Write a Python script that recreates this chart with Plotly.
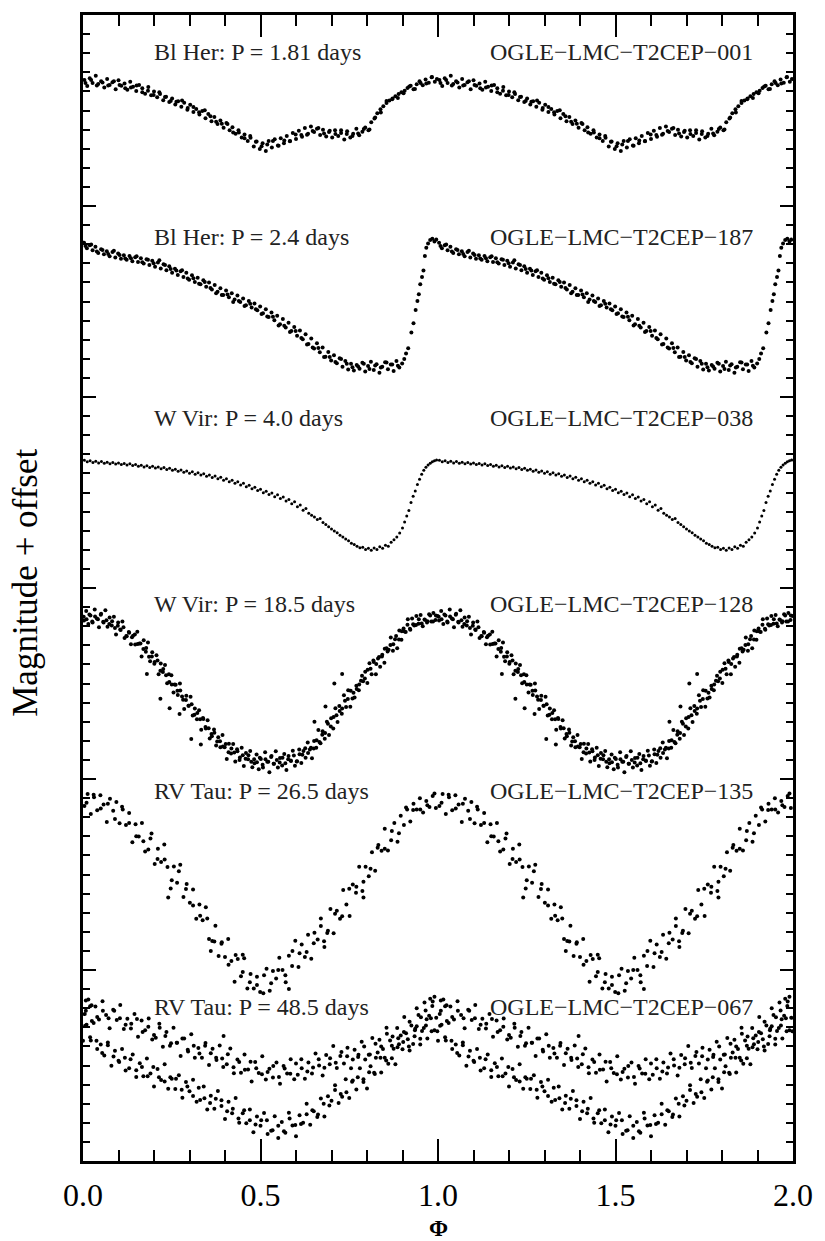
import plotly.graph_objects as go

# ---------------- data: (phase, magnitude + offset) ----------------
T2CEP_001 = [
(0.004,.340),(0.012,.372),(0.019,.331),(0.027,.356),(0.036,.318),(0.043,.361),(0.051,.347),(0.060,.380),
(0.068,.335),(0.075,.366),(0.083,.352),(0.092,.389),(0.100,.342),(0.108,.371),(0.117,.358),(0.125,.392),
(0.133,.349),(0.141,.375),(0.150,.398),(0.158,.366),(0.167,.384),(0.175,.412),(0.184,.377),(0.192,.420),
(0.200,.401),(0.209,.431),(0.217,.413),(0.226,.446),(0.234,.428),(0.243,.455),(0.251,.437),(0.260,.468),
(0.268,.452),(0.277,.481),(0.285,.459),(0.294,.496),(0.302,.470),(0.311,.508),(0.319,.492),(0.328,.521),
(0.336,.503),(0.345,.540),(0.353,.518),(0.362,.556),(0.370,.534),(0.379,.571),(0.387,.552),(0.396,.590),
(0.404,.566),(0.413,.603),(0.421,.588),(0.430,.622),(0.438,.604),(0.447,.641),(0.455,.626),(0.464,.660),
(0.472,.643),(0.481,.689),(0.489,.662),(0.498,.701),(0.506,.671),(0.515,.712),(0.523,.660),(0.532,.694),
(0.540,.651),(0.549,.683),(0.557,.645),(0.566,.672),(0.574,.633),(0.583,.661),(0.591,.618),(0.600,.649),
(0.608,.606),(0.617,.637),(0.625,.592),(0.634,.622),(0.642,.584),(0.651,.613),(0.659,.596),(0.668,.628),
(0.676,.601),(0.685,.636),(0.693,.612),(0.702,.641),(0.710,.603),(0.719,.633),(0.727,.618),(0.736,.652),
(0.744,.609),(0.753,.641),(0.761,.622),(0.770,.596),(0.778,.630),(0.787,.611),(0.795,.589),(0.804,.603),
(0.812,.561),(0.821,.542),(0.829,.514),(0.838,.493),(0.846,.478),(0.855,.461),(0.863,.448),(0.872,.437),
(0.880,.426),(0.889,.414),(0.897,.405),(0.906,.396),(0.914,.382),(0.923,.371),(0.931,.389),(0.940,.362),
(0.948,.347),(0.957,.368),(0.965,.338),(0.974,.355),(0.982,.326),(0.991,.349),(0.997,.335),
(0.007,.356),(0.023,.340),(0.039,.369),(0.055,.353),(0.071,.369),(0.087,.347),(0.103,.366),(0.119,.383),
(0.135,.380),(0.151,.369),(0.167,.405),(0.183,.397),(0.199,.419),(0.215,.404),(0.231,.429),(0.247,.450),
(0.263,.454),(0.279,.448),(0.295,.487),(0.311,.482),(0.327,.509),(0.343,.499),(0.359,.530),(0.375,.559),
(0.391,.570),(0.407,.571),(0.423,.615),(0.439,.615),(0.455,.645),(0.471,.634),(0.487,.663),(0.503,.687),
(0.519,.678),(0.535,.660),(0.551,.685),(0.567,.657),(0.583,.660),(0.599,.626),(0.615,.628),(0.631,.627),
(0.647,.607),(0.663,.591),(0.679,.621),(0.695,.606),(0.711,.623),(0.727,.603),(0.743,.623),(0.759,.633),
(0.775,.620),(0.791,.597),(0.807,.600),(0.823,.537),(0.839,.510),(0.855,.450),(0.871,.441),(0.887,.435),
(0.903,.410),(0.919,.374),(0.935,.387),(0.951,.356),(0.967,.358),(0.983,.325),
]

T2CEP_187 = [
(0.003,1.192),(0.011,1.221),(0.019,1.205),(0.027,1.232),(0.035,1.214),(0.043,1.246),(0.051,1.226),(0.059,1.252),
(0.067,1.237),(0.075,1.263),(0.083,1.241),(0.091,1.270),(0.099,1.249),(0.107,1.276),(0.115,1.258),(0.123,1.282),
(0.131,1.262),(0.139,1.289),(0.147,1.268),(0.155,1.293),(0.163,1.274),(0.171,1.301),(0.179,1.279),(0.187,1.309),
(0.195,1.286),(0.203,1.318),(0.211,1.296),(0.219,1.327),(0.227,1.305),(0.235,1.336),(0.243,1.316),(0.251,1.349),
(0.259,1.328),(0.267,1.361),(0.275,1.341),(0.283,1.372),(0.291,1.350),(0.299,1.386),(0.307,1.362),(0.315,1.398),
(0.323,1.376),(0.331,1.410),(0.339,1.389),(0.347,1.423),(0.355,1.401),(0.363,1.437),(0.371,1.414),(0.379,1.449),
(0.387,1.431),(0.395,1.466),(0.403,1.443),(0.411,1.478),(0.419,1.457),(0.427,1.489),(0.435,1.468),(0.443,1.503),
(0.451,1.484),(0.459,1.519),(0.467,1.497),(0.475,1.532),(0.483,1.511),(0.491,1.546),(0.499,1.526),(0.507,1.562),
(0.515,1.540),(0.523,1.581),(0.531,1.558),(0.539,1.598),(0.547,1.575),(0.555,1.619),(0.563,1.592),(0.571,1.636),
(0.579,1.611),(0.587,1.655),(0.595,1.634),(0.603,1.679),(0.611,1.652),(0.619,1.698),(0.627,1.671),(0.635,1.722),
(0.643,1.694),(0.651,1.746),(0.659,1.718),(0.667,1.766),(0.675,1.741),(0.683,1.789),(0.691,1.765),(0.699,1.809),
(0.707,1.782),(0.715,1.823),(0.723,1.797),(0.731,1.842),(0.739,1.812),(0.747,1.856),(0.755,1.826),(0.763,1.861),
(0.771,1.833),(0.779,1.852),(0.787,1.821),(0.795,1.866),(0.803,1.838),(0.811,1.815),(0.819,1.858),(0.827,1.829),
(0.835,1.873),(0.843,1.841),(0.851,1.818),(0.859,1.855),(0.867,1.830),(0.875,1.864),(0.883,1.812),(0.891,1.846),
(0.899,1.824),(0.905,1.801),(0.910,1.772),(0.916,1.745),(0.925,1.662),(0.931,1.614),(0.937,1.545),(0.942,1.498),
(0.946,1.462),(0.950,1.410),(0.955,1.372),(0.959,1.338),(0.963,1.262),(0.967,1.218),(0.972,1.196),(0.978,1.178),
(0.984,1.171),(0.990,1.186),(0.995,1.176),
(0.007,1.209),(0.023,1.202),(0.039,1.238),(0.055,1.230),(0.071,1.251),(0.087,1.234),(0.103,1.256),(0.119,1.275),
(0.135,1.274),(0.151,1.263),(0.167,1.295),(0.183,1.282),(0.199,1.300),(0.215,1.284),(0.231,1.309),(0.247,1.330),
(0.263,1.338),(0.279,1.337),(0.295,1.380),(0.311,1.378),(0.327,1.407),(0.343,1.398),(0.359,1.429),(0.375,1.457),
(0.391,1.466),(0.407,1.464),(0.423,1.503),(0.439,1.498),(0.455,1.524),(0.471,1.512),(0.487,1.540),(0.503,1.566),
(0.519,1.578),(0.535,1.580),(0.551,1.626),(0.567,1.627),(0.583,1.660),(0.599,1.654),(0.615,1.691),(0.631,1.725),
(0.647,1.741),(0.663,1.744),(0.679,1.790),(0.695,1.791),(0.711,1.817),(0.727,1.801),(0.743,1.826),(0.759,1.844),
(0.775,1.840),(0.791,1.826),(0.807,1.854),(0.823,1.835),(0.839,1.846),(0.855,1.819),(0.871,1.830),(0.887,1.837),
]

T2CEP_038 = [
(0.004,2.331),(0.012,2.339),(0.020,2.334),(0.028,2.343),(0.036,2.336),(0.044,2.345),(0.052,2.338),(0.060,2.347),
(0.068,2.341),(0.076,2.349),(0.084,2.343),(0.092,2.351),(0.100,2.345),(0.108,2.353),(0.116,2.348),(0.124,2.356),
(0.132,2.350),(0.140,2.359),(0.148,2.353),(0.156,2.362),(0.164,2.357),(0.172,2.366),(0.180,2.360),(0.188,2.369),
(0.196,2.363),(0.204,2.372),(0.212,2.366),(0.220,2.376),(0.228,2.369),(0.236,2.380),(0.244,2.373),(0.252,2.384),
(0.260,2.378),(0.268,2.389),(0.276,2.382),(0.284,2.394),(0.292,2.387),(0.300,2.399),(0.308,2.391),(0.316,2.404),
(0.324,2.397),(0.332,2.409),(0.340,2.402),(0.348,2.415),(0.356,2.408),(0.364,2.421),(0.372,2.414),(0.380,2.428),
(0.388,2.420),(0.396,2.436),(0.404,2.428),(0.412,2.444),(0.420,2.436),(0.428,2.452),(0.436,2.444),(0.444,2.461),
(0.452,2.452),(0.460,2.470),(0.468,2.462),(0.476,2.481),(0.484,2.473),(0.492,2.490),(0.500,2.483),(0.508,2.501),
(0.516,2.494),(0.524,2.511),(0.532,2.502),(0.540,2.522),(0.548,2.512),(0.556,2.531),(0.564,2.524),(0.572,2.545),
(0.580,2.536),(0.588,2.559),(0.596,2.548),(0.604,2.575),(0.612,2.566),(0.620,2.593),(0.628,2.584),(0.636,2.609),
(0.644,2.619),(0.652,2.628),(0.660,2.641),(0.668,2.636),(0.676,2.657),(0.684,2.668),(0.692,2.679),(0.700,2.691),
(0.708,2.702),(0.716,2.711),(0.724,2.724),(0.732,2.733),(0.740,2.744),(0.748,2.752),(0.756,2.766),(0.764,2.772),
(0.772,2.781),(0.780,2.789),(0.788,2.786),(0.796,2.799),(0.804,2.792),(0.812,2.803),(0.820,2.790),(0.828,2.798),
(0.836,2.784),(0.844,2.792),(0.852,2.776),(0.860,2.781),(0.868,2.761),(0.876,2.748),(0.884,2.733),(0.892,2.712),
(0.900,2.686),(0.906,2.654),(0.912,2.623),(0.918,2.594),(0.924,2.553),(0.930,2.519),(0.936,2.492),(0.942,2.458),
(0.948,2.431),(0.954,2.404),(0.960,2.384),(0.966,2.368),(0.972,2.356),(0.978,2.347),(0.984,2.339),(0.990,2.334),
(0.996,2.330),
]

T2CEP_128 = [
(0.003,3.170),(0.009,3.121),(0.015,3.188),(0.021,3.144),(0.027,3.181),(0.033,3.112),(0.039,3.160),(0.045,3.205),
(0.051,3.135),(0.057,3.177),(0.063,3.116),(0.069,3.203),(0.075,3.155),(0.081,3.196),(0.087,3.151),(0.093,3.243),
(0.099,3.180),(0.105,3.217),(0.111,3.175),(0.117,3.262),(0.123,3.252),(0.129,3.231),(0.135,3.294),(0.141,3.250),
(0.147,3.296),(0.153,3.229),(0.159,3.290),(0.165,3.359),(0.171,3.274),(0.177,3.334),(0.183,3.285),(0.189,3.384),
(0.195,3.337),(0.201,3.397),(0.207,3.352),(0.213,3.452),(0.219,3.395),(0.225,3.440),(0.231,3.403),(0.237,3.499),
(0.243,3.492),(0.249,3.457),(0.255,3.547),(0.261,3.506),(0.267,3.560),(0.273,3.500),(0.279,3.568),(0.285,3.634),
(0.291,3.564),(0.297,3.617),(0.303,3.569),(0.309,3.667),(0.315,3.631),(0.321,3.687),(0.327,3.640),(0.333,3.742),
(0.339,3.686),(0.345,3.728),(0.351,3.692),(0.357,3.788),(0.363,3.776),(0.369,3.741),(0.375,3.825),(0.381,3.782),
(0.387,3.834),(0.393,3.770),(0.399,3.834),(0.405,3.895),(0.411,3.815),(0.417,3.867),(0.423,3.817),(0.429,3.909),
(0.435,3.855),(0.441,3.900),(0.447,3.836),(0.453,3.932),(0.459,3.864),(0.465,3.896),(0.471,3.853),(0.477,3.938),
(0.483,3.918),(0.489,3.872),(0.495,3.949),(0.501,3.895),(0.507,3.940),(0.513,3.860),(0.519,3.910),(0.525,3.965),
(0.531,3.880),(0.537,3.920),(0.543,3.855),(0.549,3.940),(0.555,3.890),(0.561,3.929),(0.567,3.869),(0.573,3.953),
(0.579,3.880),(0.585,3.903),(0.591,3.852),(0.597,3.931),(0.603,3.907),(0.609,3.846),(0.615,3.916),(0.621,3.854),
(0.627,3.889),(0.633,3.809),(0.639,3.846),(0.645,3.892),(0.651,3.801),(0.657,3.836),(0.663,3.744),(0.669,3.813),
(0.675,3.750),(0.681,3.789),(0.687,3.700),(0.693,3.770),(0.699,3.682),(0.705,3.736),(0.711,3.629),(0.717,3.702),
(0.723,3.644),(0.729,3.659),(0.735,3.562),(0.741,3.623),(0.747,3.535),(0.753,3.622),(0.759,3.578),(0.765,3.573),
(0.771,3.529),(0.777,3.535),(0.783,3.485),(0.789,3.488),(0.795,3.438),(0.801,3.497),(0.807,3.394),(0.813,3.451),
(0.819,3.387),(0.825,3.452),(0.831,3.369),(0.837,3.412),(0.843,3.349),(0.849,3.391),(0.855,3.315),(0.861,3.323),
(0.867,3.259),(0.873,3.328),(0.879,3.268),(0.885,3.316),(0.891,3.222),(0.897,3.271),(0.903,3.212),(0.909,3.231),
(0.915,3.164),(0.921,3.213),(0.927,3.160),(0.933,3.196),(0.939,3.147),(0.945,3.187),(0.951,3.141),(0.957,3.200),
(0.963,3.166),(0.969,3.180),(0.975,3.137),(0.981,3.175),(0.987,3.131),(0.993,3.168),(0.999,3.146),
(0.180,3.450),(0.218,3.580),(0.244,3.630),(0.272,3.660),(0.305,3.790),(0.332,3.820),
(0.652,3.700),(0.683,3.620),(0.708,3.500),(0.730,3.450),
(0.002,3.150),(0.010,3.163),(0.018,3.139),(0.026,3.175),(0.034,3.149),(0.042,3.163),(0.050,3.140),(0.058,3.181),
(0.066,3.169),(0.074,3.189),(0.082,3.174),(0.090,3.210),(0.098,3.198),(0.106,3.220),(0.114,3.205),(0.122,3.251),
(0.130,3.234),(0.138,3.258),(0.146,3.244),(0.154,3.293),(0.162,3.290),(0.170,3.320),(0.178,3.314),(0.186,3.360),
(0.194,3.358),(0.202,3.387),(0.210,3.379),(0.218,3.433),(0.226,3.424),(0.234,3.457),(0.242,3.451),(0.250,3.505),
(0.258,3.505),(0.266,3.538),(0.274,3.536),(0.282,3.585),(0.290,3.586),(0.298,3.617),(0.306,3.609),(0.314,3.664),
(0.322,3.655),(0.330,3.687),(0.338,3.681),(0.346,3.735),(0.354,3.734),(0.362,3.764),(0.370,3.758),(0.378,3.804),
(0.386,3.802),(0.394,3.830),(0.402,3.817),(0.410,3.860),(0.418,3.840),(0.426,3.861),(0.434,3.844),(0.442,3.887),
(0.450,3.876),(0.458,3.894),(0.466,3.876),(0.474,3.910),(0.482,3.896),(0.490,3.912),(0.498,3.889),(0.506,3.925),
(0.514,3.897),(0.522,3.910),(0.530,3.885),(0.538,3.920),(0.546,3.901),(0.554,3.914),(0.562,3.889),(0.570,3.917),
(0.578,3.897),(0.586,3.906),(0.594,3.877),(0.602,3.908),(0.610,3.870),(0.618,3.873),(0.626,3.839),(0.634,3.864),
(0.642,3.836),(0.650,3.840),(0.658,3.797),(0.666,3.806),(0.674,3.768),(0.682,3.759),(0.690,3.711),(0.698,3.725),
(0.706,3.675),(0.714,3.666),(0.722,3.618),(0.730,3.631),(0.738,3.590),(0.746,3.581),(0.754,3.538),(0.762,3.549),
(0.770,3.512),(0.778,3.505),(0.786,3.459),(0.794,3.474),(0.802,3.428),(0.810,3.423),(0.818,3.380),(0.826,3.398),
(0.834,3.361),(0.842,3.358),(0.850,3.318),(0.858,3.332),(0.866,3.298),(0.874,3.294),(0.882,3.251),(0.890,3.270),
(0.898,3.226),(0.906,3.228),(0.914,3.193),(0.922,3.218),(0.930,3.190),(0.938,3.194),(0.946,3.163),(0.954,3.186),
(0.962,3.165),(0.970,3.174),(0.978,3.144),(0.986,3.176),(0.994,3.144),
]

T2CEP_135 = [
(0.004,4.141),(0.013,4.078),(0.022,4.183),(0.031,4.096),(0.040,4.163),(0.049,4.085),(0.058,4.133),(0.067,4.225),
(0.076,4.104),(0.085,4.166),(0.094,4.120),(0.103,4.232),(0.112,4.160),(0.121,4.241),(0.130,4.178),(0.139,4.331),
(0.148,4.237),(0.157,4.301),(0.166,4.230),(0.175,4.380),(0.184,4.369),(0.193,4.285),(0.202,4.445),(0.211,4.365),
(0.220,4.435),(0.229,4.343),(0.238,4.461),(0.247,4.573),(0.256,4.458),(0.265,4.543),(0.274,4.449),(0.283,4.618),
(0.292,4.550),(0.301,4.648),(0.310,4.578),(0.319,4.732),(0.328,4.657),(0.337,4.739),(0.346,4.671),(0.355,4.838),
(0.364,4.848),(0.373,4.768),(0.382,4.927),(0.391,4.855),(0.400,4.932),(0.409,4.838),(0.418,4.953),(0.427,5.062),
(0.436,4.943),(0.445,5.033),(0.454,4.938),(0.463,5.097),(0.472,5.021),(0.481,5.097),(0.490,5.035),(0.499,5.115),
(0.508,5.122),(0.517,4.993),(0.526,5.108),(0.535,5.005),(0.544,5.045),(0.553,4.936),(0.562,5.000),(0.571,5.064),
(0.580,4.926),(0.589,4.979),(0.598,4.847),(0.607,4.984),(0.616,4.866),(0.625,4.932),(0.634,4.816),(0.643,4.941),
(0.652,4.805),(0.661,4.840),(0.670,4.730),(0.679,4.849),(0.688,4.806),(0.697,4.681),(0.706,4.807),(0.715,4.690),
(0.724,4.732),(0.733,4.581),(0.742,4.657),(0.751,4.717),(0.760,4.553),(0.769,4.596),(0.778,4.459),(0.787,4.586),
(0.796,4.459),(0.805,4.509),(0.814,4.384),(0.823,4.481),(0.832,4.345),(0.841,4.376),(0.850,4.260),(0.859,4.374),
(0.868,4.321),(0.877,4.231),(0.886,4.328),(0.895,4.192),(0.904,4.241),(0.913,4.160),(0.922,4.222),(0.931,4.130),
(0.940,4.160),(0.949,4.101),(0.958,4.175),(0.967,4.115),(0.976,4.146),(0.985,4.089),(0.994,4.152),
(0.010,4.124),(0.030,4.082),(0.050,4.155),(0.070,4.130),(0.090,4.210),(0.110,4.145),(0.130,4.230),(0.150,4.300),
(0.170,4.326),(0.190,4.312),(0.210,4.419),(0.230,4.422),(0.250,4.530),(0.270,4.483),(0.290,4.576),(0.310,4.662),
(0.330,4.716),(0.350,4.730),(0.370,4.851),(0.390,4.862),(0.410,4.972),(0.430,4.921),(0.450,5.010),(0.470,5.064),
(0.490,5.078),(0.510,5.028),(0.530,5.069),(0.550,5.000),(0.570,5.028),(0.590,4.901),(0.610,4.912),(0.630,4.906),
(0.650,4.860),(0.670,4.770),(0.690,4.795),(0.710,4.706),(0.730,4.718),(0.750,4.575),(0.770,4.564),(0.790,4.538),
(0.810,4.470),(0.830,4.360),(0.850,4.365),(0.870,4.272),(0.890,4.284),(0.910,4.149),(0.930,4.162),(0.950,4.160),
(0.970,4.138),(0.990,4.076),
(0.240,4.620),(0.450,4.920),(0.680,4.880),(0.580,5.100),(0.790,4.620),(0.360,4.900),
]

T2CEP_067_BRIGHT = [
(0.005,5.231),(0.015,5.155),(0.025,5.267),(0.035,5.191),(0.045,5.259),(0.055,5.163),(0.065,5.235),(0.075,5.305),
(0.085,5.208),(0.095,5.262),(0.105,5.183),(0.115,5.309),(0.125,5.255),(0.135,5.306),(0.145,5.231),(0.155,5.350),
(0.165,5.264),(0.175,5.315),(0.185,5.254),(0.195,5.364),(0.205,5.355),(0.215,5.282),(0.225,5.402),(0.235,5.325),
(0.245,5.396),(0.255,5.302),(0.265,5.381),(0.275,5.450),(0.285,5.359),(0.295,5.417),(0.305,5.336),(0.315,5.459),
(0.325,5.408),(0.335,5.459),(0.345,5.382),(0.355,5.498),(0.365,5.412),(0.375,5.459),(0.385,5.395),(0.395,5.508),
(0.405,5.494),(0.415,5.411),(0.425,5.540),(0.435,5.468),(0.445,5.538),(0.455,5.443),(0.465,5.521),(0.475,5.584),
(0.485,5.482),(0.495,5.539),(0.505,5.452),(0.515,5.573),(0.525,5.517),(0.535,5.563),(0.545,5.484),(0.555,5.595),
(0.565,5.503),(0.575,5.542),(0.585,5.467),(0.595,5.572),(0.605,5.548),(0.615,5.467),(0.625,5.570),(0.635,5.484),
(0.645,5.542),(0.655,5.437),(0.665,5.500),(0.675,5.553),(0.685,5.445),(0.695,5.493),(0.705,5.398),(0.715,5.513),
(0.725,5.450),(0.735,5.490),(0.745,5.407),(0.755,5.515),(0.765,5.417),(0.775,5.455),(0.785,5.376),(0.795,5.469),
(0.805,5.444),(0.815,5.356),(0.825,5.460),(0.835,5.365),(0.845,5.413),(0.855,5.303),(0.865,5.369),(0.875,5.412),
(0.885,5.304),(0.895,5.343),(0.905,5.246),(0.915,5.362),(0.925,5.290),(0.935,5.316),(0.945,5.235),(0.955,5.319),
(0.965,5.212),(0.975,5.239),(0.985,5.165),(0.995,5.250),
(0.962,5.170),(0.978,5.150),(0.990,5.140),(0.008,5.160),(0.020,5.190),(0.940,5.200),(0.396,5.345),
(0.008,5.213),(0.024,5.185),(0.040,5.246),(0.056,5.214),(0.072,5.253),(0.088,5.213),(0.104,5.252),(0.120,5.287),
(0.136,5.282),(0.152,5.256),(0.168,5.324),(0.184,5.297),(0.200,5.340),(0.216,5.303),(0.232,5.346),(0.248,5.383),
(0.264,5.381),(0.280,5.359),(0.296,5.427),(0.312,5.397),(0.328,5.437),(0.344,5.396),(0.360,5.436),(0.376,5.471),
(0.392,5.464),(0.408,5.441),(0.424,5.509),(0.440,5.482),(0.456,5.522),(0.472,5.481),(0.488,5.515),(0.504,5.546),
(0.520,5.534),(0.536,5.502),(0.552,5.560),(0.568,5.516),(0.584,5.543),(0.600,5.490),(0.616,5.514),(0.632,5.532),
(0.648,5.511),(0.664,5.467),(0.680,5.512),(0.696,5.462),(0.712,5.485),(0.728,5.429),(0.744,5.452),(0.760,5.469),
(0.776,5.444),(0.792,5.400),(0.808,5.442),(0.824,5.386),(0.840,5.400),(0.856,5.334),(0.872,5.348),(0.888,5.357),
(0.904,5.325),(0.920,5.271),(0.936,5.307),(0.952,5.248),(0.968,5.258),(0.984,5.189),
]

T2CEP_067_FAINT = [
(0.000,5.370),(0.010,5.286),(0.020,5.352),(0.030,5.278),(0.040,5.414),(0.050,5.390),(0.060,5.447),(0.070,5.379),
(0.080,5.501),(0.090,5.423),(0.100,5.475),(0.110,5.413),(0.120,5.526),(0.130,5.514),(0.140,5.442),(0.150,5.560),
(0.160,5.488),(0.170,5.556),(0.180,5.464),(0.190,5.542),(0.200,5.610),(0.210,5.518),(0.220,5.576),(0.230,5.494),
(0.240,5.622),(0.250,5.570),(0.260,5.623),(0.270,5.551),(0.280,5.669),(0.290,5.587),(0.300,5.635),(0.310,5.575),
(0.320,5.690),(0.330,5.680),(0.340,5.610),(0.350,5.730),(0.360,5.658),(0.370,5.726),(0.380,5.634),(0.390,5.712),
(0.400,5.780),(0.410,5.690),(0.420,5.750),(0.430,5.670),(0.440,5.800),(0.450,5.750),(0.460,5.803),(0.470,5.731),
(0.480,5.849),(0.490,5.767),(0.500,5.815),(0.510,5.749),(0.520,5.858),(0.530,5.842),(0.540,5.766),(0.550,5.880),
(0.560,5.796),(0.570,5.852),(0.580,5.748),(0.590,5.814),(0.600,5.870),(0.610,5.760),(0.620,5.800),(0.630,5.700),
(0.640,5.810),(0.650,5.740),(0.660,5.769),(0.670,5.673),(0.680,5.767),(0.690,5.661),(0.700,5.685),(0.710,5.603),
(0.720,5.696),(0.730,5.664),(0.740,5.572),(0.750,5.670),(0.760,5.578),(0.770,5.626),(0.780,5.514),(0.790,5.572),
(0.800,5.620),(0.810,5.504),(0.820,5.538),(0.830,5.432),(0.840,5.536),(0.850,5.460),(0.860,5.491),(0.870,5.397),
(0.880,5.493),(0.890,5.389),(0.900,5.415),(0.910,5.331),(0.920,5.422),(0.930,5.388),(0.940,5.294),(0.950,5.390),
(0.960,5.304),(0.970,5.358),(0.980,5.252),(0.990,5.316),
(0.006,5.292),(0.022,5.369),(0.038,5.371),(0.054,5.435),(0.070,5.394),(0.086,5.453),(0.102,5.482),(0.118,5.459),
(0.134,5.467),(0.150,5.525),(0.166,5.508),(0.182,5.556),(0.198,5.508),(0.214,5.561),(0.230,5.584),(0.246,5.562),
(0.262,5.570),(0.278,5.627),(0.294,5.610),(0.310,5.660),(0.326,5.616),(0.342,5.672),(0.358,5.696),(0.374,5.674),
(0.390,5.682),(0.406,5.740),(0.422,5.727),(0.438,5.778),(0.454,5.734),(0.470,5.786),(0.486,5.809),(0.502,5.786),
(0.518,5.787),(0.534,5.839),(0.550,5.815),(0.566,5.844),(0.582,5.777),(0.598,5.811),(0.614,5.806),(0.630,5.755),
(0.646,5.734),(0.662,5.756),(0.678,5.700),(0.694,5.710),(0.710,5.628),(0.726,5.649),(0.742,5.640),(0.758,5.585),
(0.774,5.561),(0.790,5.587),(0.806,5.535),(0.822,5.545),(0.838,5.459),(0.854,5.474),(0.870,5.462),(0.886,5.405),
(0.902,5.377),(0.918,5.400),(0.934,5.347),(0.950,5.360),(0.966,5.290),(0.982,5.321),(0.998,5.321),
]

LEFT_LABELS = ["Bl Her: P = 1.81 days", "Bl Her: P = 2.4 days", "W Vir: P = 4.0 days",
               "W Vir: P = 18.5 days", "RV Tau: P = 26.5 days", "RV Tau: P = 48.5 days"]
RIGHT_LABELS = ["OGLE\u2212LMC\u2212T2CEP\u2212001", "OGLE\u2212LMC\u2212T2CEP\u2212187",
                "OGLE\u2212LMC\u2212T2CEP\u2212038", "OGLE\u2212LMC\u2212T2CEP\u2212128",
                "OGLE\u2212LMC\u2212T2CEP\u2212135", "OGLE\u2212LMC\u2212T2CEP\u2212067"]
X_TICKS = [0.0, 0.5, 1.0, 1.5, 2.0]
X_TICK_TEXT = ["0.0", "0.5", "1.0", "1.5", "2.0"]

# ---------------- figure ----------------
SERIF = "Liberation Serif, Times New Roman, serif"
series = [(T2CEP_001, 4), (T2CEP_187, 4), (T2CEP_038, 3), (T2CEP_128, 4),
          (T2CEP_135, 4), (T2CEP_067_BRIGHT, 4), (T2CEP_067_FAINT, 4)]

fig = go.Figure()
for obs, msize in series:
    ph = [p for p, _ in obs]
    mg = [m for _, m in obs]
    fig.add_trace(go.Scatter(
        x=ph + [p + 1 for p in ph], y=mg + mg, mode="markers",
        marker=dict(color="black", size=msize, line=dict(width=0)),
        showlegend=False, hoverinfo="skip"))

label_rows = [0.193, 1.160, 2.112, 3.084, 4.062, 5.196]
for left, right, yrow in zip(LEFT_LABELS, RIGHT_LABELS, label_rows):
    fig.add_annotation(x=0.195, y=yrow, text=left, showarrow=False, xanchor="left",
                       yanchor="middle", font=dict(family=SERIF, size=24, color="#222"))
    fig.add_annotation(x=1.894, y=yrow, text=right, showarrow=False, xanchor="right",
                       yanchor="middle", font=dict(family=SERIF, size=24, color="#222"))

fig.add_annotation(xref="paper", yref="paper", x=-0.081, y=0.505, text="Magnitude + offset",
                   textangle=-90, showarrow=False, xanchor="center", yanchor="middle",
                   font=dict(family=SERIF, size=35, color="black"))
fig.add_annotation(xref="paper", yref="paper", x=0.5, y=-0.0585, text="<b>\u03a6</b>",
                   showarrow=False, xanchor="center", yanchor="middle",
                   font=dict(family=SERIF, size=23, color="black"))

fig.update_layout(
    width=825, height=1241,
    margin=dict(l=83, r=25, t=13, b=80),
    paper_bgcolor="white", plot_bgcolor="white",
    xaxis=dict(range=[0, 2], tickvals=X_TICKS, ticktext=X_TICK_TEXT,
               ticks="inside", ticklen=22, tickwidth=2, tickcolor="black",
               showline=True, linewidth=3, linecolor="black", mirror="allticks",
               showgrid=False, zeroline=False, ticklabelstandoff=4,
               tickfont=dict(family=SERIF, size=32, color="black"),
               minor=dict(dtick=0.1, tick0=0, ticks="inside", ticklen=11, tickwidth=2,
                          tickcolor="black", showgrid=False)),
    yaxis=dict(range=[6, 0], tick0=0, dtick=1, showticklabels=False,
               ticks="inside", ticklen=13, tickwidth=2, tickcolor="black",
               showline=True, linewidth=3, linecolor="black", mirror="allticks",
               showgrid=False, zeroline=False,
               minor=dict(dtick=0.1, tick0=0, ticks="inside", ticklen=7, tickwidth=2,
                          tickcolor="black", showgrid=False)),
)

fig.write_html("out.html")
